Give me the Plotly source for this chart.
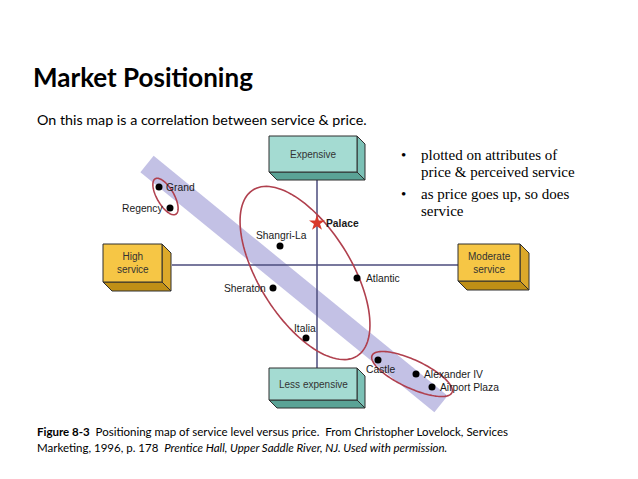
import numpy as np
import plotly.graph_objects as go

# ---------------- data ----------------
hotels = ["Grand", "Regency", "Palace", "Shangri-La", "Atlantic", "Sheraton",
          "Italia", "Castle", "Alexander IV", "Airport Plaza"]
# horizontal position (negative = higher service), vertical = price level
service_pos = [-15.8, -14.7, 0.0, -3.7, 4.0, -4.4, -1.1, 6.1, 9.9, 11.5]
price_pos = [7.8, 5.7, 4.2, 1.9, -1.3, -2.3, -7.3, -9.5, -10.9, -12.2]

axis_labels = ["Expensive", "Less expensive", "High<br>service", "Moderate<br>service"]
bullets = ["plotted on attributes of", "price & perceived service",
           "as price goes up, so does", "service"]

# ---------------- geometry helpers ----------------
OFF = 8             # page body margin
W, H = 630, 471     # figure size
CX, CY = 317, 265   # page pixel of axis crossing
S = 10.0            # pixels per unit


def P(px, py):
    return ((px - CX) / S, (CY - py) / S)


def path(pts):
    pts = [P(x, y) for x, y in pts]
    return "M " + " L ".join(f"{x:.3f},{y:.3f}" for x, y in pts) + " Z"


def ellipse_pts(cx, cy, a, b, theta_deg, n=120):
    t = np.linspace(0, 2 * np.pi, n)
    th = np.radians(theta_deg)
    x = cx + a * np.cos(t) * np.cos(th) - b * np.sin(t) * np.sin(th)
    y = cy + a * np.cos(t) * np.sin(th) + b * np.sin(t) * np.cos(th)
    return list(zip(x, y))


shapes = []

# lavender band
p0 = np.array([147.0, 164.0])
p1 = np.array([441.0, 404.0])
u = (p1 - p0) / np.linalg.norm(p1 - p0)
nrm = np.array([u[1], -u[0]])
hw = 10.5
band = [p0 + nrm * hw, p1 + nrm * hw, p1 - nrm * hw, p0 - nrm * hw]
shapes.append(dict(type="path", path=path([tuple(p) for p in band]),
                   fillcolor="#c3c1e5", line=dict(width=0), layer="below"))

# axes lines
AXC = "#4b4b7d"
shapes.append(dict(type="line", x0=P(172, 265)[0], y0=0, x1=P(458, 265)[0], y1=0,
                   line=dict(color=AXC, width=1.5), layer="below"))
shapes.append(dict(type="line", x0=0, y0=P(317, 178)[1], x1=0, y1=P(317, 370)[1],
                   line=dict(color=AXC, width=1.5), layer="below"))

# ellipses
ELC = "#b0404e"
for (cx, cy, a, b, th) in [(165.5, 196.5, 20.5, 8.5, 60),
                           (305.0, 273, 98, 46, 58),
                           (412, 374, 44, 14, 25)]:
    shapes.append(dict(type="path", path=path(ellipse_pts(cx, cy, a, b, th)),
                       line=dict(color=ELC, width=1.6), fillcolor="rgba(0,0,0,0)",
                       layer="below"))


def box(x0, y0, x1, y1, d, front, side, bottom):
    edge = dict(color="#2e2e2e", width=1)
    shapes.append(dict(type="path", path=path([(x1, y0), (x1 + d, y0 + d), (x1 + d, y1 + d), (x1, y1)]),
                       fillcolor=side, line=edge, layer="below"))
    shapes.append(dict(type="path", path=path([(x0, y1), (x1, y1), (x1 + d, y1 + d), (x0 + d, y1 + d)]),
                       fillcolor=bottom, line=edge, layer="below"))
    shapes.append(dict(type="path", path=path([(x0, y0), (x1, y0), (x1, y1), (x0, y1)]),
                       fillcolor=front, line=edge, layer="below"))


TEAL = ("#a4dbd2", "#7cc1b6", "#5aa396")
GOLD = ("#f6c645", "#dca92a", "#bf8f16")
box_geom = [(269, 136, 357, 172, 8, TEAL),
            (269, 368, 357, 400, 8, TEAL),
            (103, 244, 162, 282, 9, GOLD),
            (458, 244, 520, 281, 9, GOLD)]
for g in box_geom:
    box(*g[:5], *g[5])

# ---------------- figure ----------------
fig = go.Figure()

dot_idx = [i for i, h in enumerate(hotels) if h != "Palace"]
fig.add_trace(go.Scatter(
    x=[service_pos[i] for i in dot_idx], y=[price_pos[i] for i in dot_idx],
    mode="markers", marker=dict(size=7, color="black"), hoverinfo="skip", showlegend=False))
pi = hotels.index("Palace")
fig.add_trace(go.Scatter(
    x=[service_pos[pi]], y=[price_pos[pi]], mode="markers",
    marker=dict(size=12, color="#d8392b", symbol="star", line=dict(width=0)),
    hoverinfo="skip", showlegend=False))

annotations = []
lab_font = dict(family="Liberation Sans, Arial", size=10.3, color="#1a1a1a")
# (xanchor, yanchor, xshift, yshift)
label_style = {
    "Grand": ("left", "middle", 5, 0),
    "Regency": ("right", "middle", -5, 0),
    "Palace": ("left", "middle", 7, 0),
    "Shangri-La": ("center", "middle", 1, 11),
    "Atlantic": ("left", "middle", 7, 0),
    "Sheraton": ("right", "middle", -5, 0),
    "Italia": ("center", "middle", -1, 10),
    "Castle": ("center", "middle", 2, -9),
    "Alexander IV": ("left", "middle", 6, 0),
    "Airport Plaza": ("left", "middle", 6, 0),
}
for h, xs, ys in zip(hotels, service_pos, price_pos):
    xa, ya, dx, dy = label_style[h]
    txt = f"<b>{h}</b>" if h == "Palace" else h
    annotations.append(dict(x=xs, y=ys, xref="x", yref="y", text=txt, showarrow=False,
                            xanchor=xa, yanchor=ya, xshift=dx, yshift=dy, font=lab_font))

box_font = dict(family="Liberation Sans, Arial", size=10, color="#333333")
for lbl, g in zip(axis_labels, box_geom):
    cxp, cyp = (g[0] + g[2]) / 2, (g[1] + g[3]) / 2
    x, y = P(cxp, cyp)
    annotations.append(dict(x=x, y=y, xref="x", yref="y", text=lbl, showarrow=False,
                            xanchor="center", yanchor="middle", font=box_font))


def ptext(px, py, text, size, family, xanchor="left", color="#000000"):
    annotations.append(dict(x=(px - OFF) / W, y=1 - (py - OFF) / H, xref="paper", yref="paper",
                            text=text, showarrow=False, xanchor=xanchor, yanchor="middle",
                            font=dict(family=family, size=size, color=color)))


ptext(31, 77, "<b>Market Positioning</b>", 26, "Lato")
ptext(35, 120, "On this map is a correlation between service & price.", 14.3, "Lato")

serif = "Liberation Serif, Times New Roman"
bl_y = [155, 172, 194, 211]
for i, (t, y) in enumerate(zip(bullets, bl_y)):
    if i in (0, 2):
        ptext(399, y, "•", 15, serif)
    ptext(419, y, t, 15, serif)

ptext(35, 431, "<b>Figure 8-3</b>  Positioning map of service level versus price.  From Christopher Lovelock, Services",
      11.5, "Lato")
ptext(35, 447, "Marketing, 1996, p. 178  <i>Prentice Hall, Upper Saddle River, NJ. Used with permission.</i>",
      11.5, "Lato")

# axis range in page pixels: figure spans [OFF, OFF+W] x [OFF, OFF+H]
fig.update_layout(
    width=W, height=H, margin=dict(l=0, r=0, t=0, b=0),
    paper_bgcolor="white", plot_bgcolor="white",
    xaxis=dict(range=[(OFF - CX) / S, (OFF + W - CX) / S], visible=False, fixedrange=True),
    yaxis=dict(range=[(CY - OFF - H) / S, (CY - OFF) / S], visible=False, fixedrange=True),
    shapes=shapes, annotations=annotations, showlegend=False,
)

fig.write_html("out.html")
